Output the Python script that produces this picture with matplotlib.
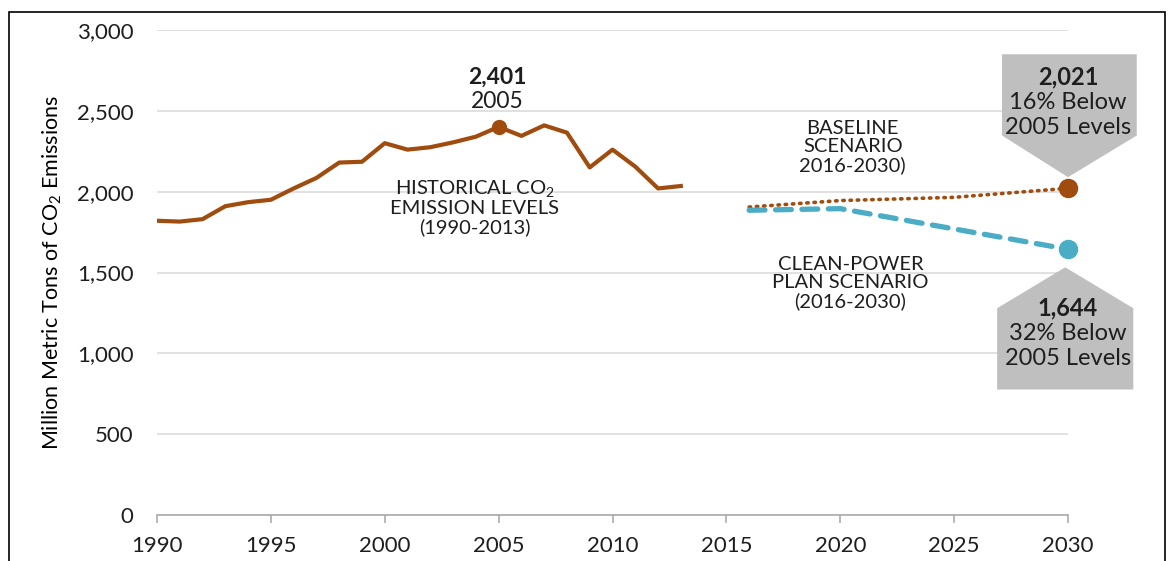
import matplotlib.pyplot as plt
from matplotlib.patches import Polygon, Rectangle
import matplotlib.transforms as mtransforms

# data
hist_years = list(range(1990, 2014))
hist_values = [1820, 1815, 1830, 1910, 1935, 1950, 2020, 2085, 2180, 2185,
               2300, 2260, 2275, 2305, 2340, 2401, 2345, 2410, 2365, 2150,
               2260, 2155, 2020, 2035]
baseline_years = [2016, 2020, 2025, 2030]
baseline_values = [1905, 1945, 1965, 2021]
cpp_years = [2016, 2020, 2030]
cpp_values = [1885, 1895, 1644]
peak_year, peak_value = 2005, 2401

xticks = list(range(1990, 2031, 5))
yticks = list(range(0, 3001, 500))

BROWN = '#A04C0E'
BLUE = '#4BACC6'
GREY = '#BFBFBF'

plt.rcParams['font.family'] = 'Lato'
plt.rcParams['mathtext.fontset'] = 'custom'
plt.rcParams['mathtext.rm'] = 'Lato'
plt.rcParams['mathtext.it'] = 'Lato:italic'
plt.rcParams['mathtext.bf'] = 'Lato:bold'
plt.rcParams['text.color'] = '#1E1E1E'

fig = plt.figure(figsize=(11.76, 5.61), dpi=100)
ax = fig.add_axes([157 / 1176, 1 - 515 / 561, (1068 - 157) / 1176, (515 - 30) / 561])

# outer frame (bottom edge is cut off in the original)
fig.patches.append(Rectangle((9 / 1176, -0.1), (1165 - 9) / 1176, 1.1 - 12 / 561,
                             transform=fig.transFigure, fill=False,
                             edgecolor='black', linewidth=1.2))

ax.set_xlim(1990, 2030)
ax.set_ylim(0, 3000)
ax.set_xticks(xticks)
ax.set_yticks(yticks)
ax.set_yticklabels([f'{v:,}' for v in yticks])
ax.grid(axis='y', color='#D9D9D9', linewidth=1.1)
ax.set_axisbelow(True)
for s in ['top', 'right', 'left']:
    ax.spines[s].set_visible(False)
ax.spines['bottom'].set_color('#A6A6A6')
ax.spines['bottom'].set_linewidth(1.1)
ax.tick_params(axis='y', length=0, pad=17, labelsize=16, labelcolor='#1E1E1E')
ax.tick_params(axis='x', length=6, width=1.1, color='#A6A6A6', pad=9,
               labelsize=16, labelcolor='#1E1E1E')
ax.set_ylabel('Million Metric Tons of CO$_2$ Emissions', fontsize=15.5, labelpad=9)

# lines
ax.plot(hist_years, hist_values, color=BROWN, linewidth=3, solid_joinstyle='round')
ax.plot(baseline_years, baseline_values, color=BROWN, linewidth=2.6,
        linestyle=(0, (0.4, 1.6)), dash_capstyle='round')
ax.plot(cpp_years, cpp_values, color=BLUE, linewidth=3.8,
        linestyle=(0, (3, 2)), dash_capstyle='round')

ax.plot([peak_year], [peak_value], 'o', color=BROWN, markersize=10, zorder=5)
ax.plot([baseline_years[-1]], [baseline_values[-1]], 'o', color=BROWN,
        markersize=13, zorder=5, clip_on=False)
ax.plot([cpp_years[-1]], [cpp_values[-1]], 'o', color=BLUE,
        markersize=13, zorder=5, clip_on=False)

ax.text(peak_year, peak_value, f'{peak_value:,}', ha='center', va='center',
        fontsize=16.5, fontweight='bold', transform=mtransforms.offset_copy(
            ax.transData, fig=fig, x=-1, y=36, units='points'))
ax.text(peak_year, peak_value, '2005', ha='center', va='center', fontsize=16.5,
        transform=mtransforms.offset_copy(ax.transData, fig=fig, x=-1, y=18,
                                          units='points'))

ax.text(2003.95, 1905, 'HISTORICAL CO$_2$\nEMISSION LEVELS\n(1990-2013)',
        ha='center', va='center', fontsize=14.5, linespacing=1.1)
ax.text(2020.55, 2276, 'BASELINE\nSCENARIO\n2016-2030)',
        ha='center', va='center', fontsize=14.5, linespacing=1.1)
ax.text(2020.45, 1435, 'CLEAN-POWER\nPLAN SCENARIO\n(2016-2030)',
        ha='center', va='center', fontsize=14.5, linespacing=1.1)


def callout(x, y, verts, lines):
    # verts are point offsets from the data point
    tr = (mtransforms.Affine2D().scale(1 / 72) + fig.dpi_scale_trans
          + mtransforms.ScaledTranslation(x, y, ax.transData))
    poly = Polygon(verts, closed=True, facecolor=GREY, edgecolor='none',
                   transform=tr, clip_on=False, zorder=3)
    ax.add_patch(poly)
    for (dy, txt, bold) in lines:
        ax.text(0, dy, txt, ha='center', va='center', fontsize=17,
                fontweight='bold' if bold else 'normal', transform=tr,
                zorder=4, clip_on=False)


# top callout (baseline 2030)
callout(baseline_years[-1], baseline_values[-1],
        [(-47.5, 96.5), (49.5, 96.5), (49.5, 38), (0, 8), (-47.5, 38)],
        [(80.5, f'{baseline_values[-1]:,}', True),
         (62, '16% Below', False),
         (43.5, '2005 Levels', False)])

# bottom callout (clean power plan 2030)
callout(cpp_years[-1], cpp_values[-1],
        [(-2, -13), (47, -42.5), (47, -101), (-51, -101), (-51, -42.5)],
        [(-42, f'{cpp_values[-1]:,}', True),
         (-60.5, '32% Below', False),
         (-79, '2005 Levels', False)])

fig.savefig('out.png', dpi=100)
